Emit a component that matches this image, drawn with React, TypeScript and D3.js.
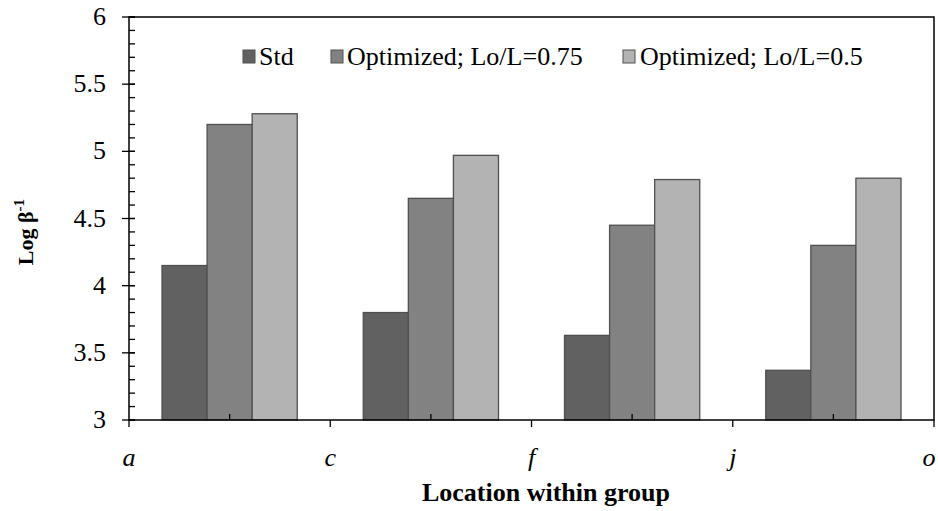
import React from 'react';
import * as d3 from 'd3';

const groups = ['g1', 'g2', 'g3', 'g4'];
const boundaryLabels = ['a', 'c', 'f', 'j', 'o'];
const seriesNames = ['Std', 'Optimized; Lo/L=0.75', 'Optimized; Lo/L=0.5'];
const stdValues = [4.15, 3.8, 3.63, 3.37];
const opt75Values = [5.2, 4.65, 4.45, 4.3];
const opt50Values = [5.28, 4.97, 4.79, 4.8];
const colors = ['#616161', '#828282', '#b3b3b3'];
const yTicks = [3, 3.5, 4, 4.5, 5, 5.5, 6];

const W = 938;
const H = 511;
const margin = { top: 17, right: 4, bottom: 91, left: 129 };
const font = 'Liberation Serif, serif';

const App = () => {
  const innerW = W - margin.left - margin.right;
  const innerH = H - margin.top - margin.bottom;
  const series = [stdValues, opt75Values, opt50Values];

  const x = d3.scaleBand().domain(groups).range([0, innerW]);
  const groupW = x.bandwidth() * 0.672;
  const x1 = d3.scaleBand().domain(seriesNames).range([0, groupW]);
  const y = d3.scaleLinear().domain([3, 6]).range([innerH, 0]);
  const minorTicks = d3.range(3, 6.001, 0.1).map((v) => Math.round(v * 10) / 10);

  const legendItems = [
    { x: 243, tx: 259 },
    { x: 331, tx: 347 },
    { x: 623, tx: 640 },
  ];

  return (
    <svg width={W} height={H} style={{ position: 'absolute', left: 0, top: 0, background: '#fff', fontFamily: font }}>
      <g transform={`translate(${margin.left},${margin.top})`}>
        {groups.map((g, gi) => (
          <g key={g} transform={`translate(${(x(g) as number) + (x.bandwidth() - groupW) / 2},0)`}>
            {series.map((vals, si) => (
              <rect
                key={si}
                x={x1(seriesNames[si])}
                y={y(vals[gi])}
                width={x1.bandwidth()}
                height={innerH - y(vals[gi])}
                fill={colors[si]}
                stroke="#505050"
                strokeWidth={1.3}
              />
            ))}
          </g>
        ))}

        {/* frame */}
        <rect x={0} y={0} width={innerW} height={innerH} fill="none" stroke="#000" strokeWidth={1.5} />

        {/* y axis */}
        {minorTicks.map((t) => (
          <line key={'m' + t} x1={0} x2={6} y1={y(t)} y2={y(t)} stroke="#000" strokeWidth={1.3} />
        ))}
        {yTicks.map((t) => (
          <g key={t}>
            <line x1={-7} x2={6} y1={y(t)} y2={y(t)} stroke="#000" strokeWidth={1.3} />
            <text x={-23} y={y(t) + 8} textAnchor="end" style={{ fontFamily: font }} fontSize={26}>
              {t}
            </text>
          </g>
        ))}

        {/* x axis */}
        {groups.map((g) => (
          <line
            key={'c' + g}
            x1={(x(g) as number) + x.bandwidth() / 2}
            x2={(x(g) as number) + x.bandwidth() / 2}
            y1={innerH}
            y2={innerH - 6}
            stroke="#000"
            strokeWidth={1.3}
          />
        ))}
        {boundaryLabels.map((lab, i) => {
          const bx = i * x.bandwidth();
          const last = i === boundaryLabels.length - 1;
          return (
            <g key={lab}>
              <line x1={bx} x2={bx} y1={innerH} y2={innerH + 7} stroke="#000" strokeWidth={1.3} />
              <text
                x={last ? bx - 5 : bx}
                y={innerH + 46}
                textAnchor="middle"
                style={{ fontFamily: font }}
                fontStyle="italic"
                fontSize={26}
              >
                {lab}
              </text>
            </g>
          );
        })}
      </g>

      {/* legend */}
      {legendItems.map((it, i) => (
        <g key={i}>
          <rect x={it.x} y={50} width={12} height={13} fill={colors[i]} stroke="#505050" strokeWidth={1} />
          <text x={it.tx} y={65} style={{ fontFamily: font }} fontSize={26}>
            {seriesNames[i]}
          </text>
        </g>
      ))}

      {/* axis titles */}
      <text x={546} y={501} textAnchor="middle" style={{ fontFamily: font }} fontWeight="bold" fontSize={26}>
        Location within group
      </text>
      <text
        transform="translate(33,232) rotate(-90)"
        textAnchor="middle"
        style={{ fontFamily: font }}
        fontWeight="bold"
        fontSize={22}
      >
        Log β
        <tspan dy={-9} fontSize={15}>
          -1
        </tspan>
      </text>
    </svg>
  );
};

export default App;
